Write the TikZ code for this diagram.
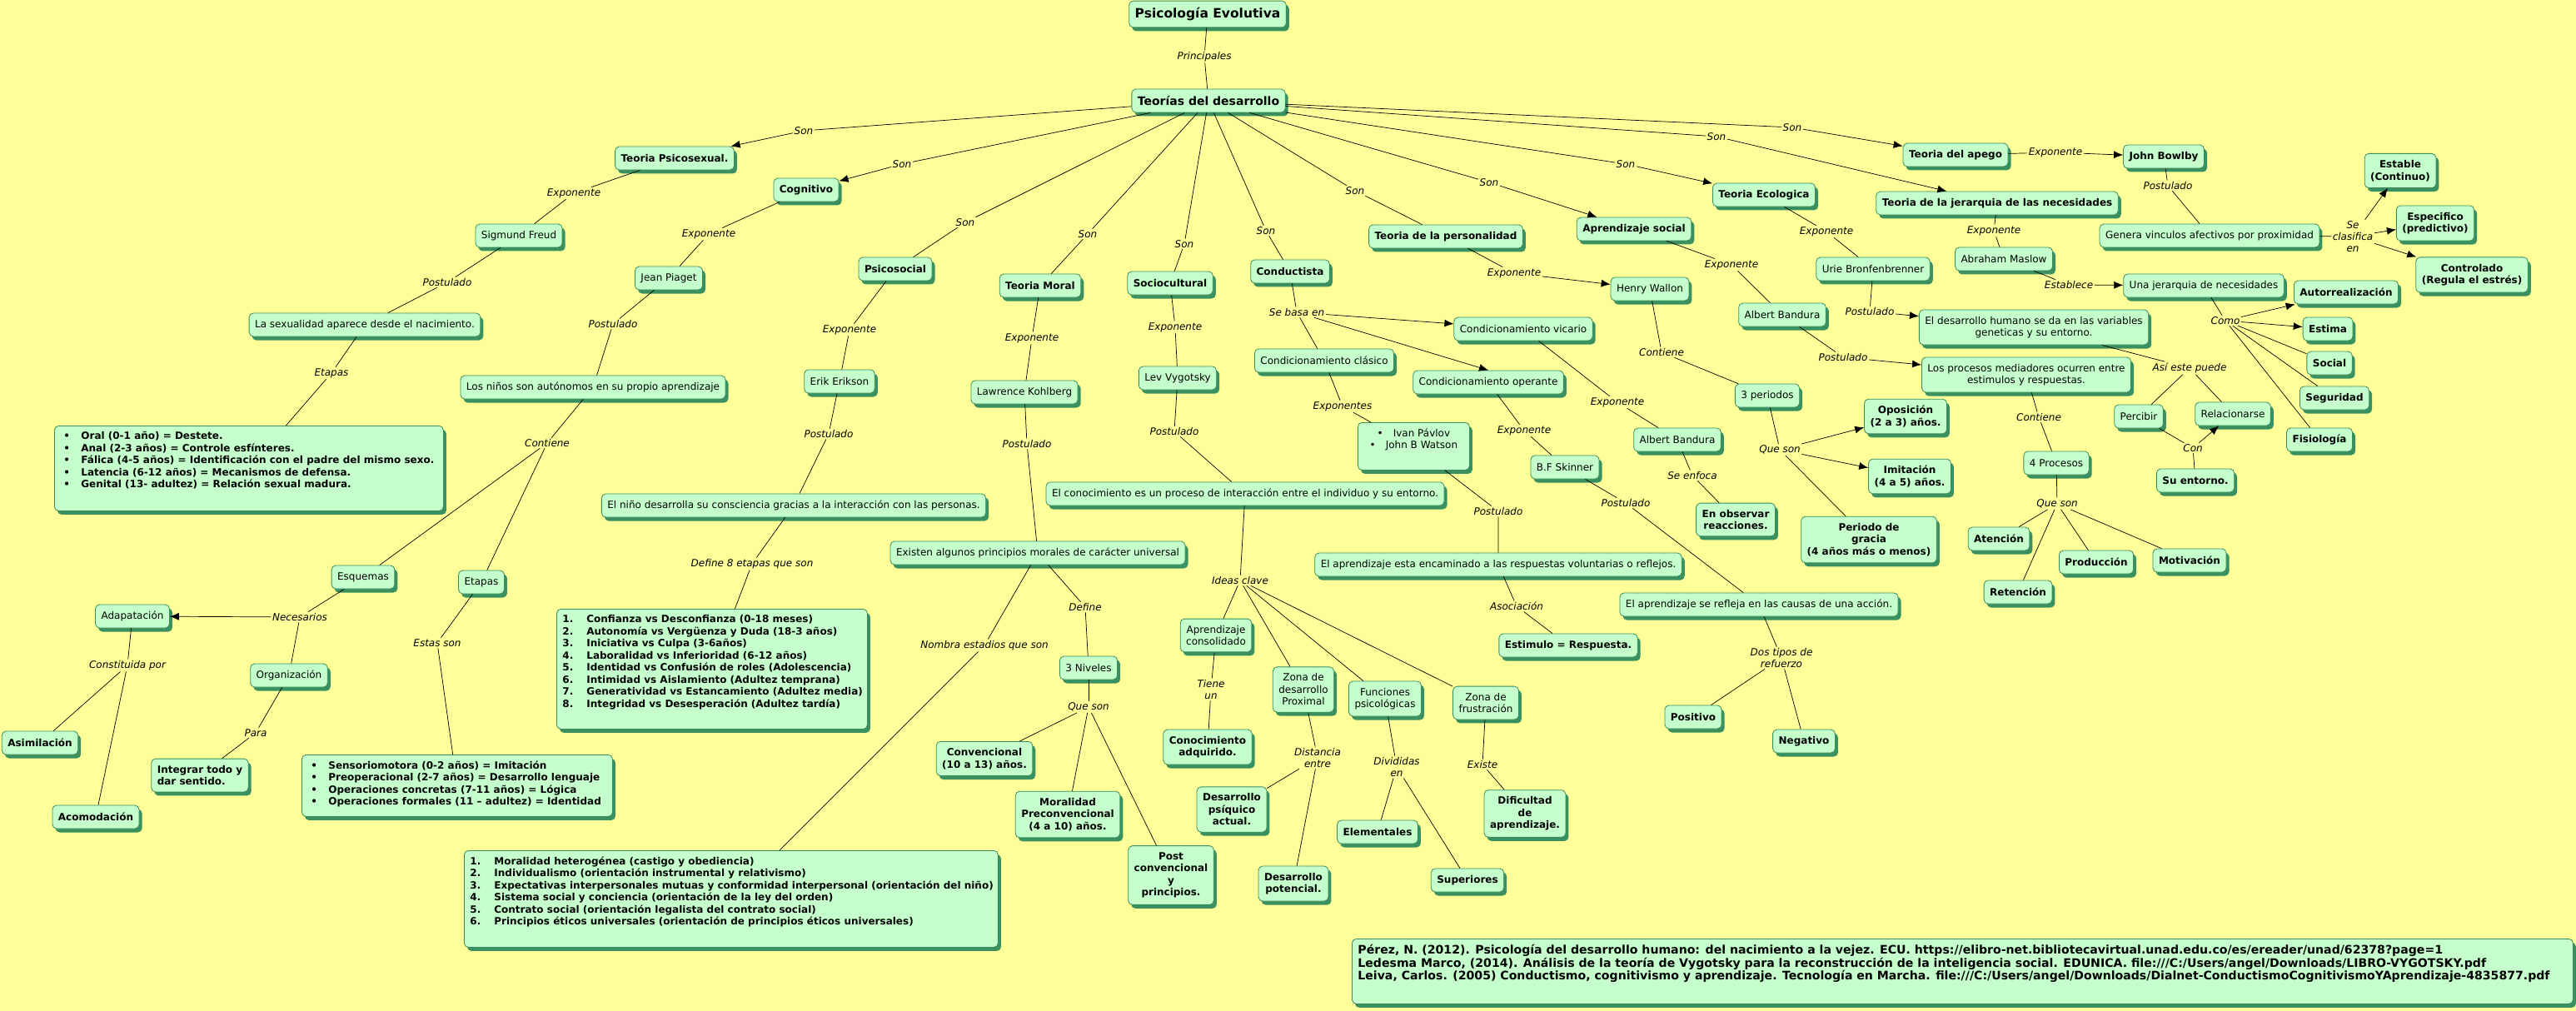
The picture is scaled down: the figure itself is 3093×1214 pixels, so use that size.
\documentclass[tikz,border=0pt]{standalone}
\usepackage{fontspec}
\setmainfont{DejaVu Sans}
\usetikzlibrary{shadows,arrows.meta}

\definecolor{paper}{RGB}{255,255,153}
\definecolor{boxgreen}{RGB}{196,255,204}
\definecolor{edgegreen}{RGB}{58,140,92}
\definecolor{shadowgreen}{RGB}{58,145,95}

\newcommand{\nfont}{\fontsize{12}{14.5}\selectfont}
\newcommand{\lfont}{\fontsize{12}{14}\selectfont\itshape}
\newcommand{\bul}[1]{\hspace*{4pt}\makebox[21pt][l]{\textbullet}\mbox{#1}\par}
\newcommand{\itemno}[2]{\makebox[29pt][l]{#1.}\mbox{#2}\par}

\tikzset{
  idea/.style={draw=edgegreen, fill=boxgreen, rounded corners=5pt, line width=0.8pt,
    drop shadow={shadow xshift=3.5pt, shadow yshift=-4.5pt, opacity=1, fill=shadowgreen},
    inner xsep=7pt, inner ysep=8pt, minimum height=28pt, align=center, font=\nfont},
  ideabold/.style={idea, font=\nfont\bfseries},
  listbox/.style={ideabold, anchor=north west, inner sep=7pt},
  linkword/.style={font=\lfont, inner sep=1.5pt, align=center},
  link/.style={draw=black, line width=0.7pt}
}

\begin{document}
\begin{tikzpicture}[x=1pt, y=-1pt, >={Latex[length=11pt,width=9pt]}]

    \useasboundingbox (0,0) rectangle (3093,1214);
    \fill[paper] (0,0) rectangle (3093,1214);

    % --- Root ---
    \node[ideabold, font=\fontsize{15.5}{18}\selectfont\bfseries] (psico) at (1450,17) {Psicología Evolutiva};
    \node[ideabold, font=\fontsize{14}{17}\selectfont\bfseries] (teorias) at (1451,121) {Teorías del desarrollo};
    \node[linkword] (lPrin) at (1446,68) {Principales};
    \draw[link] (psico) -- (lPrin) (lPrin) -- (teorias);

    % --- Theories ---
    \node[ideabold] (psicosex) at (810,190) {Teoria Psicosexual.};
    \node[ideabold] (cognitivo) at (968,228) {Cognitivo};
    \node[ideabold] (psicosocial) at (1075,323) {Psicosocial};
    \node[ideabold] (moral) at (1249,343) {Teoria Moral};
    \node[ideabold] (sociocult) at (1405,340) {Sociocultural};
    \node[ideabold] (conductista) at (1549,326) {Conductista};
    \node[ideabold] (personalidad) at (1736,284) {Teoria de la personalidad};
    \node[ideabold] (aprsocial) at (1962,275) {Aprendizaje social};
    \node[ideabold] (ecologica) at (2118,234) {Teoria Ecologica};
    \node[ideabold] (apego) at (2348,186) {Teoria del apego};
    \node[ideabold] (jerarquia) at (2398,244) {Teoria de la jerarquia de las necesidades};

    \node[linkword] (sonPsx) at (965,157) {Son};
    \node[linkword] (sonCog) at (1083,197) {Son};
    \node[linkword] (sonPss) at (1159,267) {Son};
    \node[linkword] (sonMor) at (1306,281) {Son};
    \node[linkword] (sonSoc) at (1422,293) {Son};
    \node[linkword] (sonCond) at (1520,277) {Son};
    \node[linkword] (sonPers) at (1627,229) {Son};
    \node[linkword] (sonApr) at (1788,219) {Son};
    \node[linkword] (sonEco) at (1952,197) {Son};
    \node[linkword] (sonJer) at (2061,164) {Son};
    \node[linkword] (sonApe) at (2152,153) {Son};

    \draw[link,->] (teorias) -- (sonPsx) (sonPsx) -- (psicosex);
    \draw[link,->] (teorias) -- (sonCog) (sonCog) -- (cognitivo);
    \draw[link] (teorias) -- (sonPss) (sonPss) -- (psicosocial);
    \draw[link] (teorias) -- (sonMor) (sonMor) -- (moral);
    \draw[link] (teorias) -- (sonSoc) (sonSoc) -- (sociocult);
    \draw[link] (teorias) -- (sonCond) (sonCond) -- (conductista);
    \draw[link] (teorias) -- (sonPers) (sonPers) -- (personalidad);
    \draw[link,->] (teorias) -- (sonApr) (sonApr) -- (aprsocial);
    \draw[link,->] (teorias) -- (sonEco) (sonEco) -- (ecologica);
    \draw[link,->] (teorias) -- (sonJer) (sonJer) -- (jerarquia);
    \draw[link,->] (teorias) -- (sonApe) (sonApe) -- (apego);

    % --- Freud ---
    \node[idea] (freud) at (623,283) {Sigmund Freud};
    \node[idea] (sexualidad) at (438,390) {La sexualidad aparece desde el nacimiento.};
    \node[listbox] (freudlist) at (65,511) {\parbox[t][88pt][t]{453pt}{%
        \bul{Oral (0-1 año) = Destete.}
        \bul{Anal (2-3 años) = Controle esfínteres.}
        \bul{Fálica (4-5 años) = Identificación con el padre del mismo sexo.}
        \bul{Latencia (6-12 años) = Mecanismos de defensa.}
        \bul{Genital (13- adultez) = Relación sexual madura.}}};
    \node[linkword] (expFreud) at (689,232) {Exponente};
    \node[linkword] (postFreud) at (537,339) {Postulado};
    \node[linkword] (etapasFreud) at (398,448) {Etapas};
    \draw[link] (psicosex) -- (expFreud) (expFreud) -- (freud);
    \draw[link] (freud) -- (postFreud) (postFreud) -- (sexualidad);
    \draw[link] (sexualidad) -- (etapasFreud) (etapasFreud) -- (freudlist);

    % --- Piaget ---
    \node[idea] (piaget) at (803,334) {Jean Piaget};
    \node[idea] (autonomos) at (712,465) {Los niños son autónomos en su propio aprendizaje};
    \node[idea] (esquemas) at (436,693) {Esquemas};
    \node[idea] (etapas) at (578,699) {Etapas};
    \node[idea] (adaptacion) at (159,740) {Adapatación};
    \node[idea] (organizacion) at (347,811) {Organización};
    \node[ideabold] (asimilacion) at (48,892) {Asimilación};
    \node[ideabold] (acomodacion) at (115,981) {Acomodación};
    \node[ideabold, align=left] (integrar) at (240,931) {Integrar todo y\\dar sentido.};
    \node[listbox] (piagetlist) at (362,906) {\parbox[t][60pt][t]{359pt}{%
        \bul{Sensoriomotora (0-2 años) = Imitación}
        \bul{Preoperacional (2-7 años) = Desarrollo lenguaje}
        \bul{Operaciones concretas (7-11 años) = Lógica}
        \bul{Operaciones formales (11 – adultez) = Identidad}}};
    \node[linkword] (expPiaget) at (851,281) {Exponente};
    \node[linkword] (postPiaget) at (736,389) {Postulado};
    \node[linkword] (contPiaget) at (657,532) {Contiene};
    \node[linkword] (necesarios) at (360,741) {Necesarios};
    \node[linkword] (constituida) at (153,799) {Constituida por};
    \node[linkword] (para) at (307,880) {Para};
    \node[linkword] (estasSon) at (525,772) {Estas son};
    \draw[link] (cognitivo) -- (expPiaget) (expPiaget) -- (piaget);
    \draw[link] (piaget) -- (postPiaget) (postPiaget) -- (autonomos);
    \draw[link] (autonomos) -- (contPiaget);
    \draw[link] (contPiaget) -- (esquemas);
    \draw[link] (contPiaget) -- (etapas);
    \draw[link] (esquemas) -- (necesarios);
    \draw[link,->] (necesarios) -- (adaptacion);
    \draw[link] (necesarios) -- (organizacion);
    \draw[link] (adaptacion) -- (constituida);
    \draw[link] (constituida) -- (asimilacion);
    \draw[link] (constituida) -- (acomodacion);
    \draw[link] (organizacion) -- (para) (para) -- (integrar);
    \draw[link] (etapas) -- (estasSon) (estasSon) -- (piagetlist);

    % --- Erikson ---
    \node[idea] (erikson) at (1008,458) {Erik Erikson};
    \node[idea] (ninho) at (953,607) {El niño desarrolla su consciencia gracias a la interacción con las personas.};
    \node[listbox] (eriksonlist) at (668,731) {\parbox[t][130pt][t]{359pt}{%
        \itemno{1}{Confianza vs Desconfianza (0-18 meses)}
        \itemno{2}{Autonomía vs Vergüenza y Duda (18-3 años)}
        \itemno{3}{Iniciativa vs Culpa (3-6años)}
        \itemno{4}{Laboralidad vs Inferioridad (6-12 años)}
        \itemno{5}{Identidad vs Confusión de roles (Adolescencia)}
        \itemno{6}{Intimidad vs Aislamiento (Adultez temprana)}
        \itemno{7}{Generatividad vs Estancamiento (Adultez media)}
        \itemno{8}{Integridad vs Desesperación (Adultez tardía)}}};
    \node[linkword] (expErikson) at (1020,396) {Exponente};
    \node[linkword] (postErikson) at (995,521) {Postulado};
    \node[linkword] (define8) at (903,677) {Define 8 etapas que son};
    \draw[link] (psicosocial) -- (expErikson) (expErikson) -- (erikson);
    \draw[link] (erikson) -- (postErikson) (postErikson) -- (ninho);
    \draw[link] (ninho) -- (define8) (define8) -- (eriksonlist);

    % --- Kohlberg ---
    \node[idea] (kohlberg) at (1230,471) {Lawrence Kohlberg};
    \node[idea] (existen) at (1246,664) {Existen algunos principios morales de carácter universal};
    \node[idea] (niveles) at (1307,802) {3 Niveles};
    \node[ideabold] (convencional) at (1182,911) {Convencional\\(10 a 13) años.};
    \node[ideabold] (preconv) at (1282,978) {Moralidad\\Preconvencional\\(4 a 10) años.};
    \node[ideabold] (postconv) at (1406,1051) {Post\\convencional\\y\\principios.};
    \node[listbox] (kohlberglist) at (557,1021) {\parbox[t][102pt][t]{627pt}{%
        \itemno{1}{Moralidad heterogénea (castigo y obediencia)}
        \itemno{2}{Individualismo (orientación instrumental y relativismo)}
        \itemno{3}{Expectativas interpersonales mutuas y conformidad interpersonal (orientación del niño)}
        \itemno{4}{Sistema social y conciencia (orientación de la ley del orden)}
        \itemno{5}{Contrato social (orientación legalista del contrato social)}
        \itemno{6}{Principios éticos universales (orientación de principios éticos universales)}}};
    \node[linkword] (expKohl) at (1239,406) {Exponente};
    \node[linkword] (postKohl) at (1233,533) {Postulado};
    \node[linkword] (define) at (1303,729) {Define};
    \node[linkword] (nombra) at (1182,775) {Nombra estadios que son};
    \node[linkword] (quesonNiv) at (1307,849) {Que son};
    \draw[link] (moral) -- (expKohl) (expKohl) -- (kohlberg);
    \draw[link] (kohlberg) -- (postKohl) (postKohl) -- (existen);
    \draw[link] (existen) -- (define) (define) -- (niveles);
    \draw[link] (existen) -- (nombra) (nombra) -- (kohlberglist);
    \draw[link] (niveles) -- (quesonNiv);
    \draw[link] (quesonNiv) -- (convencional);
    \draw[link] (quesonNiv) -- (preconv);
    \draw[link] (quesonNiv) -- (postconv);

    % --- Vygotsky ---
    \node[idea] (vygotsky) at (1414,454) {Lev Vygotsky};
    \node[idea] (conocimiento) at (1495,593) {El conocimiento es un proceso de interacción entre el individuo y su entorno.};
    \node[idea] (consolidado) at (1460,763) {Aprendizaje\\consolidado};
    \node[ideabold] (conocadq) at (1450,897) {Conocimiento\\adquirido.};
    \node[idea] (zdp) at (1565,828) {Zona de\\desarrollo\\Proximal};
    \node[idea] (funciones) at (1663,839) {Funciones\\psicológicas};
    \node[idea] (zfrust) at (1784,844) {Zona de\\frustración};
    \node[ideabold] (actual) at (1479,972) {Desarrollo\\psíquico\\actual.};
    \node[ideabold] (potencial) at (1553,1061) {Desarrollo\\potencial.};
    \node[ideabold] (elementales) at (1654,999) {Elementales};
    \node[ideabold] (superiores) at (1762,1057) {Superiores};
    \node[ideabold] (dificultad) at (1831,977) {Dificultad\\de\\aprendizaje.};
    \node[linkword] (expVyg) at (1411,393) {Exponente};
    \node[linkword] (postVyg) at (1410,518) {Postulado};
    \node[linkword] (ideas) at (1489,697) {Ideas clave};
    \node[linkword] (tiene) at (1454,828) {Tiene\\un};
    \node[linkword] (distancia) at (1582,910) {Distancia\\entre};
    \node[linkword] (divididas) at (1677,921) {Divididas\\en};
    \node[linkword] (existe) at (1780,918) {Existe};
    \draw[link] (sociocult) -- (expVyg) (expVyg) -- (vygotsky);
    \draw[link] (vygotsky) -- (postVyg) (postVyg) -- (conocimiento);
    \draw[link] (conocimiento) -- (ideas);
    \draw[link] (ideas) -- (consolidado);
    \draw[link] (ideas) -- (zdp);
    \draw[link] (ideas) -- (funciones);
    \draw[link] (ideas) -- (zfrust);
    \draw[link] (consolidado) -- (tiene) (tiene) -- (conocadq);
    \draw[link] (zdp) -- (distancia);
    \draw[link] (distancia) -- (actual);
    \draw[link] (distancia) -- (potencial);
    \draw[link] (funciones) -- (divididas);
    \draw[link] (divididas) -- (elementales);
    \draw[link] (divididas) -- (superiores);
    \draw[link] (zfrust) -- (existe) (existe) -- (dificultad);

    % --- Conductismo ---
    \node[idea] (vicario) at (1829,395) {Condicionamiento vicario};
    \node[idea] (clasico) at (1590,433) {Condicionamiento clásico};
    \node[idea] (operante) at (1787,459) {Condicionamiento operante};
    \node[listbox, font=\nfont] (pavlov) at (1630,507) {\parbox[t][43pt][t]{120pt}{\centering
        \textbullet\hspace{12pt}Ivan Pávlov\par
        \textbullet\hspace{12pt}John B Watson\par}};
    \node[idea] (encaminado) at (1799,678) {El aprendizaje esta encaminado a las respuestas voluntarias o reflejos.};
    \node[ideabold] (estimulo) at (1883,775) {Estimulo = Respuesta.};
    \node[idea] (skinner) at (1879,561) {B.F Skinner};
    \node[idea] (refleja) at (2112,726) {El aprendizaje se refleja en las causas de una acción.};
    \node[ideabold] (positivo) at (2033,861) {Positivo};
    \node[ideabold] (negativo) at (2166,890) {Negativo};
    \node[idea] (bandura) at (2014,528) {Albert Bandura};
    \node[ideabold] (observar) at (2084,624) {En observar\\reacciones.};
    \node[linkword] (sebasa) at (1557,375) {Se basa en};
    \node[linkword] (expClasico) at (1612,488) {Exponentes};
    \node[linkword] (postPavlov) at (1799,614) {Postulado};
    \node[linkword] (asociacion) at (1821,728) {Asociación};
    \node[linkword] (expSkinner) at (1830,517) {Exponente};
    \node[linkword] (postSkinner) at (1952,604) {Postulado};
    \node[linkword] (dostipos) at (2139,790) {Dos tipos de\\refuerzo};
    \node[linkword] (expBandura) at (1942,483) {Exponente};
    \node[linkword] (seenfoca) at (2032,571) {Se enfoca};
    \draw[link] (conductista) -- (sebasa);
    \draw[link,->] (sebasa) -- (vicario);
    \draw[link] (sebasa) -- (clasico);
    \draw[link,->] (sebasa) -- (operante.north);
    \draw[link] (clasico) -- (expClasico) (expClasico) -- (pavlov);
    \draw[link] (pavlov) -- (postPavlov) (postPavlov) -- (encaminado);
    \draw[link] (encaminado) -- (asociacion) (asociacion) -- (estimulo);
    \draw[link] (operante) -- (expSkinner) (expSkinner) -- (skinner);
    \draw[link] (skinner) -- (postSkinner) (postSkinner) -- (refleja);
    \draw[link] (refleja) -- (dostipos);
    \draw[link] (dostipos) -- (positivo);
    \draw[link] (dostipos) -- (negativo);
    \draw[link] (vicario) -- (expBandura) (expBandura) -- (bandura);
    \draw[link] (bandura) -- (seenfoca) (seenfoca) -- (observar);

    % --- Wallon ---
    \node[idea] (wallon) at (1981,347) {Henry Wallon};
    \node[idea] (periodos) at (2122,475) {3 periodos};
    \node[ideabold] (oposicion) at (2288,500) {Oposición\\(2 a 3) años.};
    \node[ideabold] (imitacion) at (2293,572) {Imitación\\(4 a 5) años.};
    \node[ideabold] (gracia) at (2244,648) {Periodo de\\gracia\\(4 años más o menos)};
    \node[linkword] (expWallon) at (1818,328) {Exponente};
    \node[linkword] (contWallon) at (1995,423) {Contiene};
    \node[linkword] (quesonPer) at (2137,540) {Que son};
    \draw[link,->] (personalidad) -- (expWallon) (expWallon) -- (wallon);
    \draw[link] (wallon) -- (contWallon) (contWallon) -- (periodos);
    \draw[link] (periodos) -- (quesonPer);
    \draw[link,->] (quesonPer) -- (oposicion);
    \draw[link,->] (quesonPer) -- (imitacion);
    \draw[link] (quesonPer) -- (gracia);

    % --- Bandura ---
    \node[idea] (banduraup) at (2140,378) {Albert Bandura};
    \node[idea] (mediadores) at (2433,450) {Los procesos mediadores ocurren entre\\estimulos y respuestas.};
    \node[idea] (procesos) at (2469,556) {4 Procesos};
    \node[ideabold] (atencion) at (2400,647) {Atención};
    \node[ideabold] (retencion) at (2423,711) {Retención};
    \node[ideabold] (produccion) at (2517,675) {Producción};
    \node[ideabold] (motivacion) at (2629,673) {Motivación};
    \node[linkword] (expBanUp) at (2079,318) {Exponente};
    \node[linkword] (postBanUp) at (2213,429) {Postulado};
    \node[linkword] (contMed) at (2448,501) {Contiene};
    \node[linkword] (quesonProc) at (2470,605) {Que son};
    \draw[link] (aprsocial) -- (expBanUp) (expBanUp) -- (banduraup);
    \draw[link,->] (banduraup) -- (postBanUp) (postBanUp) -- (mediadores);
    \draw[link] (mediadores) -- (contMed) (contMed) -- (procesos);
    \draw[link] (procesos) -- (quesonProc);
    \draw[link] (quesonProc) -- (atencion);
    \draw[link] (quesonProc) -- (retencion);
    \draw[link] (quesonProc) -- (produccion);
    \draw[link] (quesonProc) -- (motivacion);

    % --- Bronfenbrenner ---
    \node[idea] (bronfen) at (2249,323) {Urie Bronfenbrenner};
    \node[idea] (desarrollo) at (2442,393) {El desarrollo humano se da en las variables\\geneticas y su entorno.};
    \node[idea] (percibir) at (2568,500) {Percibir};
    \node[idea] (relacionarse) at (2681,497) {Relacionarse};
    \node[ideabold] (entorno) at (2636,577) {Su entorno.};
    \node[linkword] (expBronf) at (2193,278) {Exponente};
    \node[linkword] (postBronf) at (2245,374) {Postulado};
    \node[linkword] (asipuede) at (2629,442) {Así este puede};
    \node[linkword] (con) at (2633,538) {Con};
    \draw[link] (ecologica) -- (expBronf) (expBronf) -- (bronfen);
    \draw[link,->] (bronfen) -- (postBronf) (postBronf) -- (desarrollo);
    \draw[link] (desarrollo) -- (asipuede);
    \draw[link] (asipuede) -- (percibir);
    \draw[link] (asipuede) -- (relacionarse);
    \draw[link] (percibir) -- (con);
    \draw[link,->] (con) -- (relacionarse);
    \draw[link] (con) -- (entorno);

    % --- Bowlby ---
    \node[ideabold] (bowlby) at (2598,188) {John Bowlby};
    \node[idea] (genera) at (2653,283) {Genera vinculos afectivos por proximidad};
    \node[ideabold] (estable) at (2882,205) {Estable\\(Continuo)};
    \node[ideabold] (especifico) at (2924,268) {Especifico\\(predictivo)};
    \node[ideabold] (controlado) at (2968,330) {Controlado\\(Regula el estrés)};
    \node[linkword] (expBowlby) at (2468,183) {Exponente};
    \node[linkword] (postBowlby) at (2603,223) {Postulado};
    \node[linkword] (clasifica) at (2825,284) {Se\\clasifica\\en};
    \draw[link,->] (apego) -- (expBowlby) (expBowlby) -- (bowlby);
    \draw[link] (bowlby) -- (postBowlby) (postBowlby) -- (genera);
    \draw[link] (genera) -- (clasifica);
    \draw[link,->] (clasifica) -- (estable);
    \draw[link,->] (clasifica) -- (especifico);
    \draw[link,->] (clasifica) -- (controlado);

    % --- Maslow ---
    \node[idea] (maslow) at (2406,311) {Abraham Maslow};
    \node[idea] (unajerarquia) at (2646,343) {Una jerarquia de necesidades};
    \node[ideabold] (autorreal) at (2817,351) {Autorrealización};
    \node[ideabold] (estima) at (2795,395) {Estima};
    \node[ideabold] (social) at (2797,436) {Social};
    \node[ideabold] (seguridad) at (2803,478) {Seguridad};
    \node[ideabold] (fisiologia) at (2785,528) {Fisiología};
    \node[linkword] (expMaslow) at (2394,277) {Exponente};
    \node[linkword] (establece) at (2484,342) {Establece};
    \node[linkword] (como) at (2672,385) {Como};
    \draw[link] (jerarquia) -- (expMaslow) (expMaslow) -- (maslow);
    \draw[link,->] (maslow) -- (establece) (establece) -- (unajerarquia);
    \draw[link] (unajerarquia) -- (como);
    \draw[link,->] (como) -- (autorreal);
    \draw[link,->] (como) -- (estima);
    \draw[link] (como) -- (social);
    \draw[link] (como) -- (seguridad);
    \draw[link] (como) -- (fisiologia);

    % --- References ---
    \node[listbox, font=\fontsize{14.1}{15.5}\selectfont\bfseries] (refs) at (1623,1127) {\parbox[t][64pt][t]{1452pt}{%
        \mbox{Pérez, N. (2012). Psicología del desarrollo humano: del nacimiento a la vejez. ECU. https://elibro-net.bibliotecavirtual.unad.edu.co/es/ereader/unad/62378?page=1}\par
        \mbox{Ledesma Marco, (2014). Análisis de la teoría de Vygotsky para la reconstrucción de la inteligencia social. EDUNICA. file:///C:/Users/angel/Downloads/LIBRO-VYGOTSKY.pdf}\par
        \mbox{Leiva, Carlos. (2005) Conductismo, cognitivismo y aprendizaje. Tecnología en Marcha. file:///C:/Users/angel/Downloads/Dialnet-ConductismoCognitivismoYAprendizaje-4835877.pdf}\par}};

\end{tikzpicture}
\end{document}
